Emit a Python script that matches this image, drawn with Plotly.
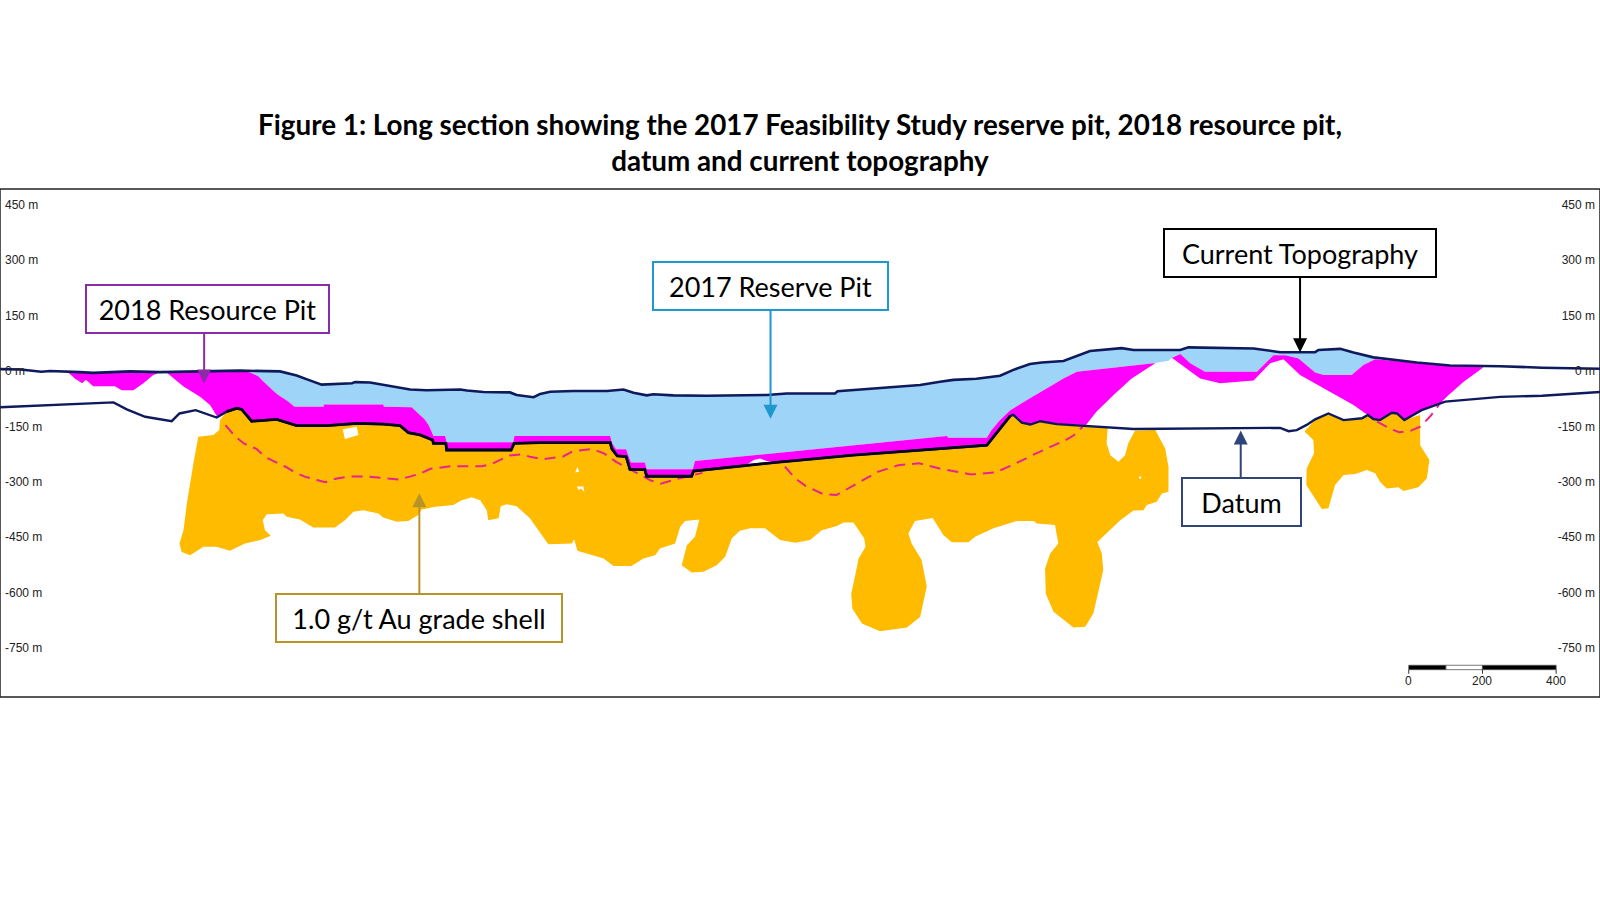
import numpy as np
import plotly.graph_objects as go

# long section, all values in metres: x along section, y elevation
y_ticks = [450, 300, 150, 0, -150, -300, -450, -600, -750]
y_tick_labels = ["450 m", "300 m", "150 m", "0 m", "-150 m", "-300 m", "-450 m", "-600 m", "-750 m"]

topo_x = [0, 56, 112, 136, 217, 253, 353, 434, 543, 651, 760, 805, 837, 873, 955, 964, 1004, 1040, 1113, 1158,
          1249, 1267, 1312, 1384, 1402, 1448, 1466, 1493, 1556, 1647, 1692, 1719, 1755, 1773, 1827, 1918, 2008, 2081,
          2135, 2266, 2273, 2334, 2425, 2497, 2551, 2587, 2650, 2714, 2750, 2795, 2827, 2886, 2958, 3044, 3076, 3203,
          3225, 3302, 3402, 3474, 3569, 3578, 3619, 3637, 3673, 3727, 3845, 3935, 4071, 4185, 4342]
topo_y = [5, 4, -2, 0, -3, -5, -1, -3, -1, 1, -1, -12, -24, -37, -33, -30, -31, -37, -50, -52,
          -50, -53, -57, -58, -65, -71, -62, -56, -54, -54, -50, -59, -66, -63, -66, -67, -65, -65,
          -61, -61, -55, -50, -42, -38, -29, -24, -21, -13, 3, 19, 23, 27, 54, 62, 57, 57,
          64, 62, 61, 51, 51, 57, 60, 60, 50, 37, 23, 15, 13, 9, 6]

datum_x = [0, 136, 308, 344, 394, 466, 487, 531, 588, 615, 642, 656, 683, 751, 805, 887, 968, 1040, 1086, 1108, 1140,
           1174, 1176, 1210, 1212, 1387, 1395, 1466, 1656, 1660, 1675, 1699, 1710, 1750, 1755, 1877, 1882, 2099, 2316,
           2678, 2696, 2741, 2750, 2773, 2796, 2823, 2868, 2949, 3076, 3474, 3497, 3519, 3546, 3569, 3605, 3646, 3696,
           3712, 3727, 3745, 3777, 3791, 3811, 3858, 3922, 4071, 4185, 4342]
datum_y = [-98, -92, -85, -104, -124, -136, -115, -106, -126, -110, -101, -104, -136, -131, -148, -148, -142, -144,
           -148, -167, -173, -187, -196, -196, -214, -214, -196, -194, -194, -210, -230, -232, -267, -267, -285, -285,
           -271, -248, -228, -201, -178, -122, -119, -140, -145, -136, -144, -149, -157, -154, -163, -160, -146, -131,
           -115, -133, -128, -119, -130, -133, -113, -115, -133, -106, -83, -70, -67, -57]

# reserve pit floor, left to right, where it meets the resource pit
floor_x = [679, 701, 712, 724, 740, 755, 769, 783, 799, 878, 879, 1040, 1042, 1117, 1126, 1140, 1152, 1163, 1170, 1176,
           1208, 1212, 1393, 1396, 1656, 1660, 1672, 1699, 1712, 1750, 1755, 1880, 1886, 2569, 2574, 2678, 2691, 2714,
           2741, 2786, 2832, 2886, 2922, 3130, 3171, 3184, 3203, 3230, 3270, 3411, 3456, 3488, 3524, 3569, 3592, 3668,
           3700, 3732]
floor_y = [-4, -14, -26, -38, -52, -65, -74, -83, -97, -97, -91, -91, -97, -98, -106, -119, -131, -146, -161, -176,
           -176, -193, -193, -176, -176, -194, -212, -212, -248, -248, -266, -266, -244, -176, -181, -181, -160, -133,
           -107, -79, -51, -20, -2, 21, 28, 39, 46, 21, -2, -2, 43, 43, 34, -4, -11, -11,
           16, 32]

res_west_x = [185, 203, 223, 233, 253, 312, 330, 362, 389, 416, 434]
res_west_y = [-4, -20, -33, -24, -41, -41, -52, -52, -33, -11, -4]

res_main_left_x = [452, 498, 543, 570, 591]
res_main_left_y = [-4, -42, -70, -92, -126]
res_main_right_x = [2947, 2976, 3022, 3071, 3135]
res_main_right_y = [-146, -110, -65, -20, 21]
res_main_top_x = [651, 543]
res_main_top_y = [1, -1]

res_east_upper_x = [3180, 3203, 3230, 3270, 3411, 3456, 3488, 3524, 3569, 3592, 3668, 3700, 3732, 3845, 3935, 4026,
                    3972, 3926, 3908]
res_east_upper_y = [36, 46, 21, -2, -2, 43, 43, 34, -4, -11, -11, 16, 32, 22, 14, 10, -29, -70, -88]
res_east_lower_x = [3673, 3619, 3528, 3483, 3447, 3402, 3311, 3257]
res_east_lower_y = [-92, -61, -11, 32, 21, -26, -33, -20]

shell_x = [597, 595, 579, 538, 525, 507, 498, 487, 493, 516, 552, 588, 624, 665, 706, 735, 719, 713, 724, 769, 778,
           814, 850, 909, 936, 959, 986, 1027, 1040, 1077, 1108, 1135, 1144, 1181, 1230, 1253, 1280, 1303, 1321, 1325,
           1353, 1359, 1375, 1402, 1438, 1466, 1488, 1552, 1558, 1567, 1638, 1665, 1714, 1746, 1778, 1791, 1832, 1846,
           1859, 1898, 1886, 1864, 1850, 1877, 1909, 1945, 1968, 1986, 2008, 2035, 2076, 2117, 2158, 2198, 2230, 2271,
           2289, 2316, 2345, 2349, 2330, 2319, 2310, 2313, 2339, 2388, 2461, 2497, 2515, 2501, 2474, 2465, 2483, 2531,
           2560, 2583, 2628, 2646, 2696, 2759, 2805, 2814, 2863, 2872, 2850, 2836, 2838, 2859, 2913, 2945, 2967, 2994,
           2990, 2978, 3013, 3040, 3076, 3103, 3112, 3139, 3153, 3171, 3171, 3162, 3135, 3080, 3062, 3053, 3035, 3013,
           3003, 3006]
shell_y = [-133, -160, -173, -178, -250, -359, -431, -467, -490, -499, -476, -476, -487, -467, -458, -446, -431, -404,
           -388, -386, -395, -402, -424, -424, -404, -381, -377, -386, -397, -408, -406, -390, -375, -368, -363, -350,
           -342, -350, -377, -404, -399, -366, -361, -366, -399, -440, -469, -467, -456, -487, -508, -528, -528, -508,
           -499, -481, -467, -422, -406, -402, -449, -472, -526, -546, -544, -526, -503, -453, -433, -426, -426, -458,
           -465, -458, -431, -420, -410, -410, -453, -476, -508, -562, -603, -643, -684, -705, -695, -666, -584, -512,
           -467, -440, -406, -398, -444, -464, -464, -449, -426, -406, -406, -413, -417, -467, -494, -535, -603, -652,
           -695, -693, -657, -539, -494, -463, -431, -404, -378, -377, -363, -354, -332, -327, -259, -210, -160, -162,
           -196, -228, -246, -228, -196, -155]

shell_east_x = [3564, 3540, 3564, 3566, 3546, 3545, 3587, 3605, 3623, 3646, 3678, 3709, 3732, 3745, 3763, 3795, 3809,
                3849, 3872, 3879, 3854, 3854]
shell_east_y = [-137, -164, -187, -223, -264, -309, -374, -372, -309, -282, -279, -268, -277, -300, -318, -315, -325,
                -315, -291, -241, -201, -119]

# small gaps in the shell, separated by None
gaps_x = [930, 968, 973, 936, None, 1567, 1572, 1561, None, 1565, 1583, 1586, 1576, 1570, None, 3091, 3097, 3097, 3091]
gaps_y = [-158, -151, -173, -184, None, -259, -273, -275, None, -313, -313, -327, -318, -322, None, -286, -286, -292,
          -292]
notch_x = [2028, 2045, 2063, 2081, 2106, 2106]
notch_y = [-253, -241, -237, -244, -246, -250]

dash_x = [612, 640, 663, 696, 720, 748, 776, 799, 827, 860, 883, 911, 944, 1000, 1037, 1084, 1112, 1140, 1168, 1224,
          1308, 1336, 1383, 1416, 1438, 1471, 1527, 1555, 1607, 1639, 1672, 1737, 1765, 1793, 1831, 1906, None,
          2130, 2158, 2186, 2233, 2270, 2326, 2382, 2438, 2494, 2550, 2635, 2700, 2747, 2812, 2892, 2914, 2938, None,
          3737, 3774, 3797, 3825, 3854, 3882, 3905]
dash_y = [-147, -179, -197, -211, -233, -247, -260, -274, -286, -295, -301, -292, -286, -286, -290, -294, -286, -278,
          -265, -258, -258, -251, -229, -226, -232, -239, -232, -217, -211, -223, -246, -282, -296, -305, -294, -276,
          None, -259, -291, -311, -333, -336, -305, -273, -255, -250, -264, -280, -275, -255, -223, -187, -174, -151,
          None, -137, -157, -166, -163, -151, -122, -92]

scale_edges = [3823, 3924, 4023, 4223]
scale_labels = ["0", "200", "400"]
scale_label_x = [3823, 4023, 4223]

callouts = ["2018 Resource Pit", "2017 Reserve Pit", "Current Topography", "Datum", "1.0 g/t Au grade shell"]
callout_x = [562, 2091, 3528, 3369, 1138]
callout_y = [167, 229, 321, -354, -669]
callout_w = [245, 237, 274, 121, 288]
callout_colors = ["#8a2ca8", "#1f97cf", "#000000", "#2f4478", "#b8932a"]
arrow_x = [554, 2091, 3528, 3367, 1138]
arrow_tail = [109, 171, 264, -297, -612]
arrow_tip = [-34, -129, 51, -161, -331]

NAVY = "#0f1a5c"
MAGENTA = "#ff00ff"
BLUE = "#9dd4f7"
GOLD = "#ffbb00"


def between(xs, ys, x0, x1):
    ax = np.array(xs)
    keep = (ax >= x0) & (ax <= x1)
    return ax[keep].tolist(), np.array(ys)[keep].tolist()


def poly(x, y, color):
    return go.Scatter(x=x, y=y, mode="lines", fill="toself", fillcolor=color, line=dict(width=0),
                      hoverinfo="skip", showlegend=False)


def line(x, y, color, width, dash="solid"):
    return go.Scatter(x=x, y=y, mode="lines", line=dict(color=color, width=width, dash=dash),
                      hoverinfo="skip", showlegend=False)


fig = go.Figure()

# grade shell, closed along the datum
dx, dy = between(datum_x, datum_y, 600, 3003)
fig.add_trace(poly(shell_x + dx[::-1], shell_y + dy[::-1], GOLD))
dx, dy = between(datum_x, datum_y, 3565, 3854)
fig.add_trace(poly(shell_east_x + dx[::-1], shell_east_y + dy[::-1], GOLD))
fig.add_trace(poly(gaps_x, gaps_y, "white"))

# reserve pit
tx, ty = between(topo_x, topo_y, 680, 3730)
fig.add_trace(poly(tx + floor_x[::-1], ty + floor_y[::-1], BLUE))

# resource pit
fig.add_trace(poly(res_west_x, res_west_y, MAGENTA))
dx, dy = between(datum_x, datum_y, 600, 2945)
fx, fy = between(floor_x, floor_y, 0, 3130)
fig.add_trace(poly(res_main_left_x + dx + res_main_right_x + fx[::-1] + res_main_top_x,
                   res_main_left_y + dy + res_main_right_y + fy[::-1] + res_main_top_y, MAGENTA))
dx, dy = between(datum_x, datum_y, 3714, 3900)
fig.add_trace(poly(res_east_upper_x + dx[::-1] + res_east_lower_x,
                   res_east_upper_y + dy[::-1] + res_east_lower_y, MAGENTA))
fig.add_trace(poly(notch_x, notch_y, "white"))

# cut-off grade trace
fig.add_trace(line(dash_x, dash_y, "#e8238c", 2, "11px,7px"))

fig.add_trace(line(datum_x, datum_y, NAVY, 2.4))
dx, dy = between(datum_x, datum_y, 600, 2741)
fig.add_trace(line(dx, dy, "#05051f", 2.8))
fig.add_trace(line(topo_x, topo_y, NAVY, 2.6))

# keeps the right hand axis on the page
fig.add_trace(go.Scatter(x=[0], y=[0], yaxis="y2", mode="markers", marker=dict(opacity=0),
                         hoverinfo="skip", showlegend=False))

# scale bar
bar_fill = ["black", "white", "black"]
for i in range(3):
    fig.add_shape(type="rect", x0=scale_edges[i], x1=scale_edges[i + 1], y0=-809, y1=-797,
                  fillcolor=bar_fill[i], line=dict(color="#555555", width=0.8))
for i in range(3):
    fig.add_shape(type="line", x0=scale_label_x[i], x1=scale_label_x[i], y0=-820, y1=-809,
                  line=dict(color="#333333", width=1))
    fig.add_annotation(x=scale_label_x[i], y=-840, text=scale_labels[i], showarrow=False,
                       font=dict(family="Liberation Sans", size=12, color="#222222"))

for i, label in enumerate(callouts):
    fig.add_annotation(x=arrow_x[i], y=arrow_tip[i], ax=arrow_x[i], ay=arrow_tail[i], axref="x", ayref="y", text="",
                       showarrow=True, arrowhead=2, arrowsize=1.4, arrowwidth=2, arrowcolor=callout_colors[i])
    fig.add_annotation(x=callout_x[i], y=callout_y[i], text=label, showarrow=False, width=callout_w[i] - 4, height=46,
                       bgcolor="white", bordercolor=callout_colors[i], borderwidth=2, borderpad=0,
                       font=dict(family="Lato", size=27, color="black"))

# frame
fig.add_shape(type="rect", xref="paper", yref="paper", x0=0, x1=1, y0=0, y1=1, fillcolor="rgba(0,0,0,0)",
              line=dict(color="#222222", width=1.5), layer="above")

y_axis = dict(range=[-883, 493], tickvals=y_ticks, ticktext=y_tick_labels, ticklabelposition="inside", ticks="",
              ticklabelstandoff=2, showgrid=False, zeroline=False,
              tickfont=dict(family="Liberation Sans", size=12, color="#222222"))

fig.update_layout(
    title=dict(text="Figure 1: Long section showing the 2017 Feasibility Study reserve pit, 2018 resource pit,<br>"
                    "datum and current topography",
               font=dict(family="Lato", size=27.8, color="black", weight="bold"),
               x=0.5, xanchor="center", y=0.85, yanchor="middle"),
    width=1600, height=900,
    margin=dict(l=0, r=0, t=189, b=203),
    paper_bgcolor="white", plot_bgcolor="white",
    xaxis=dict(range=[0, 4342], visible=False),
    yaxis=y_axis,
    yaxis2=dict(y_axis, overlaying="y", side="right"),
    showlegend=False,
)

fig.write_html("out.html", config={"displayModeBar": False}, post_script="document.body.style.margin = '0';")
